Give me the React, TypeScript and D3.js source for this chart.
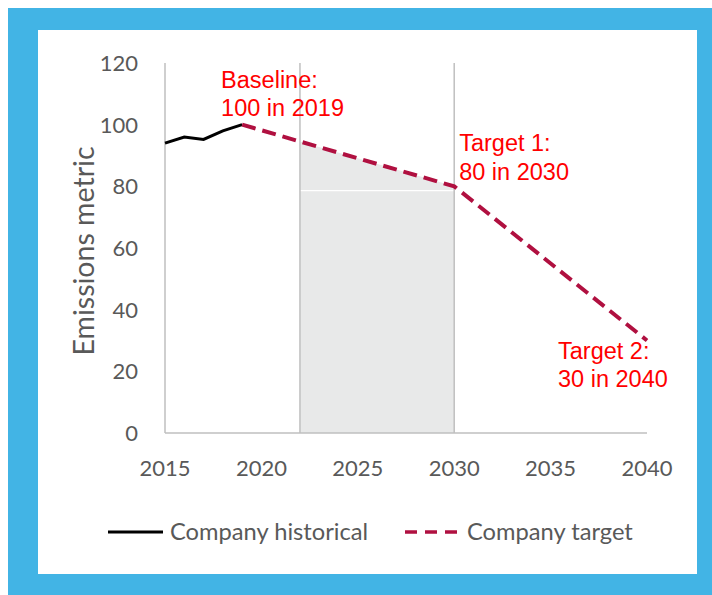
import React from "react";
import * as d3 from "d3";

const histYears = [2015, 2016, 2017, 2018, 2019];
const histValues = [94, 96, 95.2, 98, 100];
const targetYears = [2019, 2030, 2040];
const targetValues = [100, 80, 30];
const shadeYears = [2022, 2030];
const shadeFloor = [78.6, 78.6];
const xTicks = [2015, 2020, 2025, 2030, 2035, 2040];
const yTicks = [0, 20, 40, 60, 80, 100, 120];
const gridYears = [2015, 2022, 2030];
const notes = [
  { year: 2019, value: 100, lines: ["Baseline:", "100 in 2019"], dx: -21, dy: -37 },
  { year: 2030, value: 80, lines: ["Target 1:", "80 in 2030"], dx: 5, dy: -35 },
  { year: 2040, value: 30, lines: ["Target 2:", "30 in 2040"], dx: -89, dy: 18 },
];

const W = 712;
const H = 595;
const margin = { top: 63, right: 65, bottom: 162, left: 165 };
const axisFont = "Lato, 'Open Sans', sans-serif";
const redFont = "'Liberation Sans', Arial, sans-serif";

export default function App() {
  const x = d3.scaleLinear().domain([2015, 2040]).range([margin.left, W - margin.right]);
  const y = d3.scaleLinear().domain([0, 120]).range([H - margin.bottom, margin.top]);

  const targetAt = d3.scaleLinear().domain(targetYears).range(targetValues);

  const line = d3
    .line<[number, number]>()
    .x((d) => x(d[0]))
    .y((d) => y(d[1]));

  const histPts = histYears.map((yr, i) => [yr, histValues[i]] as [number, number]);
  const targetPts = targetYears.map((yr, i) => [yr, targetValues[i]] as [number, number]);

  const lowerArea = d3
    .area<number>()
    .x((d) => x(d))
    .y0(y(0))
    .y1((d, i) => y(shadeFloor[i]));
  const upperArea = d3
    .area<number>()
    .x((d) => x(d))
    .y0((d, i) => y(shadeFloor[i]))
    .y1((d) => y(targetAt(d)));

  const red = "#ff0000";
  const crimson = "#b01040";
  const gray = "#bfbfbf";
  const labelColor = "#595959";

  return (
    <svg
      width={W}
      height={H}
      style={{ position: "absolute", left: 0, top: 0 }}
    >
      <rect x={8} y={8} width={W - 8} height={H - 8} fill="#42b4e5" />
      <rect x={38} y={30} width={659} height={544} fill="#ffffff" />

      <path d={lowerArea(shadeYears) || ""} fill="#e8e9e9" />
      <path d={upperArea(shadeYears) || ""} fill="#e8e9e9" />
      <line
        x1={x(shadeYears[0])}
        x2={x(shadeYears[1])}
        y1={y(shadeFloor[0])}
        y2={y(shadeFloor[1])}
        stroke="#ffffff"
        strokeWidth={1.2}
      />

      {gridYears.map((yr) => (
        <line
          key={yr}
          x1={x(yr)}
          x2={x(yr)}
          y1={y(120)}
          y2={y(0)}
          stroke={gray}
          strokeWidth={1.5}
        />
      ))}
      <line x1={x(2015)} x2={x(2040)} y1={y(0)} y2={y(0)} stroke={gray} strokeWidth={1.5} />

      {yTicks.map((t) => (
        <text
          key={t}
          x={margin.left - 27}
          y={y(t)}
          dy="0.36em"
          textAnchor="end"
          fontFamily={axisFont}
          fontSize={22}
          fill={labelColor}
        >
          {t}
        </text>
      ))}
      {xTicks.map((t) => (
        <text
          key={t}
          x={x(t)}
          y={y(0) + 43}
          textAnchor="middle"
          fontFamily={axisFont}
          fontSize={22}
          fill={labelColor}
        >
          {t}
        </text>
      ))}
      <text
        transform={`translate(94,${(y(0) + y(120)) / 2 + 3}) rotate(-90)`}
        textAnchor="middle"
        fontFamily={axisFont}
        fontSize={28.5}
        fill={labelColor}
      >
        Emissions metric
      </text>

      <path d={line(histPts) || ""} fill="none" stroke="#000000" strokeWidth={3} />
      <path
        d={line(targetPts) || ""}
        fill="none"
        stroke={crimson}
        strokeWidth={4}
        strokeDasharray="14 7"
      />

      {notes.map((n) => (
        <text
          key={n.year}
          x={x(n.year) + n.dx}
          y={y(n.value) + n.dy}
          fontFamily={redFont}
          fontSize={23.5}
          fill={red}
        >
          {n.lines.map((l, i) => (
            <tspan key={i} x={x(n.year) + n.dx} dy={i === 0 ? 0 : 28.4}>
              {l}
            </tspan>
          ))}
        </text>
      ))}

      <g fontFamily={axisFont} fontSize={23.7} fill={labelColor}>
        <line x1={108} x2={163} y1={532} y2={532} stroke="#000000" strokeWidth={3} />
        <text x={170} y={540}>Company historical</text>
        <line
          x1={405}
          x2={460}
          y1={532}
          y2={532}
          stroke={crimson}
          strokeWidth={3.5}
          strokeDasharray="12 8"
        />
        <text x={467} y={540}>Company target</text>
      </g>
    </svg>
  );
}
